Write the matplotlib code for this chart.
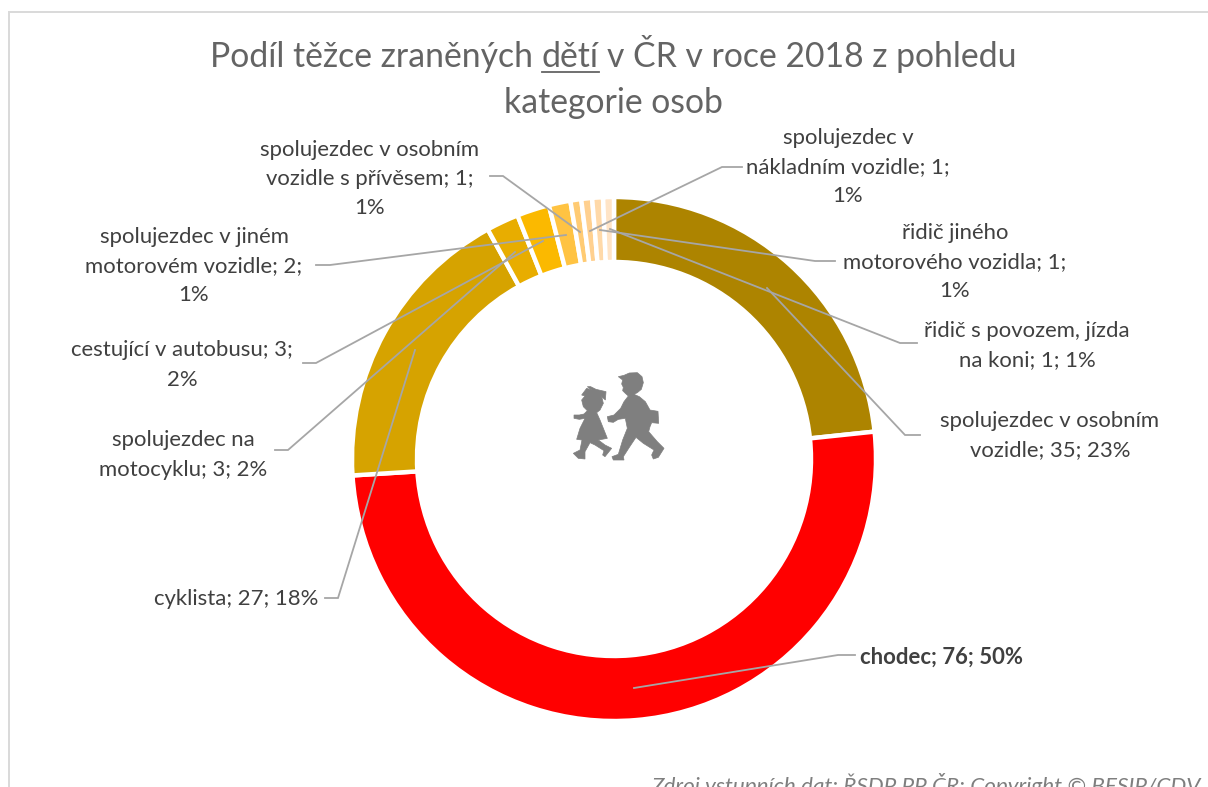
import matplotlib
matplotlib.use("Agg")
import matplotlib.pyplot as plt
from matplotlib.patches import Polygon

plt.rcParams['font.family'] = ['Lato', 'DejaVu Sans']

W, H = 1208, 787

categories = ["spolujezdec v osobním vozidle", "chodec", "cyklista", "spolujezdec na motocyklu",
              "cestující v autobusu", "spolujezdec v jiném motorovém vozidle",
              "spolujezdec v osobním vozidle s přívěsem", "spolujezdec v nákladním vozidle",
              "řidič jiného motorového vozidla", "řidič s povozem, jízda na koni"]
values = [35, 76, 27, 3, 3, 2, 1, 1, 1, 1]
colors = ["#AD8400", "#FF0000", "#D6A300", "#E8AD00", "#FBB900", "#FFC342",
          "#FFCB73", "#FFD08F", "#FFD9A8", "#FFE4C6"]
labels = ["spolujezdec v osobním\nvozidle; 35; 23%", "chodec; 76; 50%", "cyklista; 27; 18%",
          "spolujezdec na\nmotocyklu; 3; 2%", "cestující v autobusu; 3;\n2%",
          "spolujezdec v jiném\nmotorovém vozidle; 2;\n1%",
          "spolujezdec v osobním\nvozidle s přívěsem; 1;\n1%",
          "spolujezdec v\nnákladním vozidle; 1;\n1%",
          "řidič jiného\nmotorového vozidla; 1;\n1%",
          "řidič s povozem, jízda\nna koni; 1; 1%"]

label_xy = [(1050, 436), (941, 657), (236, 599), (183, 455), (182, 365), (194, 266),
            (370, 179), (848, 167), (955, 262), (1027, 346)]
leaders = [[(920, 435), (905, 435), (767, 288)],
           [(855, 655), (838, 655), (634, 688)],
           [(325, 598), (338, 598), (415, 350)],
           [(275, 450), (288, 450), (515, 252)],
           [(303, 363), (316, 363), (543, 241)],
           [(316, 265), (330, 265), (566, 235)],
           [(490, 176), (503, 176), (580, 232)],
           [(742, 167), (722, 167), (590, 231)],
           [(835, 261), (815, 261), (600, 230)],
           [(917, 343), (900, 343), (610, 229)]]

boy = [(205,50),(222,46),(238,39),(262,38),(276,50),(280,68),(274,88),(262,98),(252,103),(268,110),(286,125),(300,150),
       (324,154),(326,190),(305,188),(300,200),(296,215),(322,245),(342,265),(325,292),(310,297),(305,285),(312,270),
       (280,250),(258,232),(238,262),(220,290),(222,300),(190,300),(186,290),(205,283),(218,240),(232,205),(226,175),
       (205,178),(190,187),(175,185),(172,170),(192,165),(212,145),(222,125),(235,108),(226,100),(218,92),(220,82),(215,72),(218,60)]
girl = [(110,85),(125,90),(112,80),(122,80),(138,88),(168,95),(166,120),(155,110),(160,130),(150,150),(140,158),
        (150,180),(172,235),(145,240),(165,255),(185,265),(165,290),(158,285),(162,272),(135,255),(120,248),(105,275),
        (105,297),(85,295),(70,280),(90,270),(96,240),(80,238),(90,205),(105,175),(88,178),(72,175),(72,165),(88,165),
        (102,162),(112,152),(100,140),(95,120),(105,108),(95,105)]
icon_color = "#7F7F7F"
icon_left, icon_top, icon_scale = 550, 360, 1 / 3

title_line1_pre = "Podíl těžce zraněných "
title_under = "dětí"
title_line1_post = " v ČR v roce 2018 z pohledu"
title_line2 = "kategorie osob"
source = "Zdroj vstupních dat: ŘSDP PP ČR; Copyright © BESIP/CDV"

cx, cy, R, r = 614, 459, 262, 197


def Y(y):
    return H - y


fig = plt.figure(figsize=(W / 100, H / 100), dpi=100)
ax = fig.add_axes([0, 0, 1, 1])

ax.pie(values, colors=colors, startangle=90, counterclock=False, radius=R, center=(cx, Y(cy)),
       frame=True, wedgeprops=dict(width=R - r, edgecolor="white", linewidth=3.2))
ax.set_xlim(0, W)
ax.set_ylim(0, H)
ax.axis('off')

# chart frame: top and left edges only reach the picture
ax.plot([9, 9, W], [0, Y(11.5), Y(11.5)], color="#D9D9D9", lw=1.4, solid_joinstyle='miter')

for pts in leaders:
    ax.plot([p[0] for p in pts], [Y(p[1]) for p in pts], color="#A6A6A6", lw=1.3, zorder=5,
            solid_joinstyle='miter')

for name, txt, (x, y) in zip(categories, labels, label_xy):
    ax.text(x, Y(y), txt, ha='center', va='center', fontsize=15.9, color="#404040", linespacing=1.57,
            fontweight='bold' if name == "chodec" else 'normal', zorder=6)

# title with underlined word
fs = 24.3
tc = "#646464"
y1 = Y(67)
rend = fig.canvas.get_renderer()


def width(s):
    t = ax.text(0, y1, s, fontsize=fs)
    w = t.get_window_extent(rend).width
    t.remove()
    return w


sp_w = width("a a") - width("aa")
pre = title_line1_pre.strip()
post = title_line1_post.strip()
total = width(pre) + width(title_under) + width(post) + 2 * sp_w
x0 = 613.5 - total / 2
ustart = x0 + width(pre) + sp_w
uend = ustart + width(title_under)
ax.text(x0, y1, pre, fontsize=fs, color=tc)
ax.text(ustart, y1, title_under, fontsize=fs, color=tc)
ax.text(uend + sp_w, y1, post, fontsize=fs, color=tc)
ax.plot([ustart, uend], [y1 - 4.5, y1 - 4.5], color=tc, lw=1.3)
ax.text(613.5, Y(113), title_line2, ha='center', va='baseline', fontsize=fs, color=tc)

# silhouette icon
for shape in (boy, girl):
    ax.add_patch(Polygon([(icon_left + px * icon_scale, Y(icon_top + py * icon_scale)) for px, py in shape],
                         closed=True, fc=icon_color, ec=icon_color, lw=0.5, zorder=4))

ax.text(1201, Y(793), source, ha='right', va='baseline', fontsize=16.2, style='italic', color="#7F7F7F")

fig.savefig("out.png", dpi=100)
